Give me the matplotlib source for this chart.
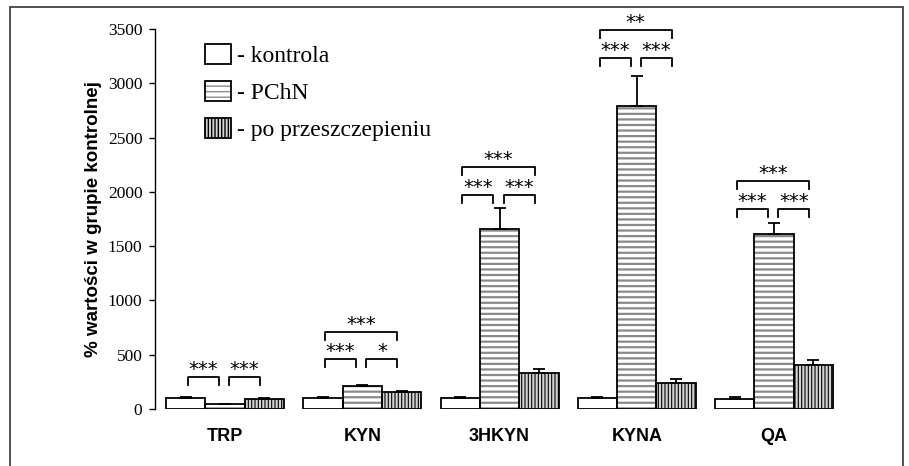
import matplotlib
matplotlib.use('Agg')
import matplotlib.pyplot as plt
import matplotlib.patches as mpatches
from matplotlib.legend_handler import HandlerTuple
import numpy as np

# data
metabolites = ['TRP', 'KYN', '3HKYN', 'KYNA', 'QA']
groups = ['- kontrola', '- PChN', '- po przeszczepieniu']
kontrola = [100, 100, 100, 100, 95]
kontrola_err = [8, 8, 8, 8, 16]
pchn = [45, 212, 1657, 2790, 1612]
pchn_err = [5, 12, 195, 275, 100]
przeszczep = [95, 157, 331, 239, 405]
przeszczep_err = [5, 12, 40, 37, 46]

# significance brackets: (metabolite index, bar a, bar b, bracket top, stars)
brackets = [
    (0, 0, 1, 295, '***'), (0, 1, 2, 295, '***'),
    (1, 0, 1, 460, '***'), (1, 1, 2, 460, '*'), (1, 0, 2, 709, '***'),
    (2, 0, 1, 1971, '***'), (2, 1, 2, 1971, '***'), (2, 0, 2, 2229, '***'),
    (3, 0, 1, 3233, '***'), (3, 1, 2, 3233, '***'), (3, 0, 2, 3491, '**'),
    (4, 0, 1, 1842, '***'), (4, 1, 2, 1842, '***'), (4, 0, 2, 2100, '***'),
]

# styles: face, hatch, hatch colour, hatch linewidth
styles = [
    ('white', '', 'black', 1.0),
    ('white', '---', '#8a8a8a', 1.6),
    ('#d4d4d4', '|||||', 'black', 0.8),
]

fig = plt.figure(figsize=(9.09, 4.66), dpi=100)
ax = fig.add_axes([155 / 909, 1 - 409 / 466, 725 / 909, 380 / 466])

# outer frame around the figure
fig.patches.append(mpatches.Rectangle((10 / 909, -0.1), 893 / 909, 1.1 - 7 / 466,
                                      transform=fig.transFigure, fill=False,
                                      edgecolor='#333333', linewidth=1.2))

x = np.arange(len(metabolites))
w = 0.2865
series = [(kontrola, kontrola_err), (pchn, pchn_err), (przeszczep, przeszczep_err)]
handles = []
for k, ((vals, errs), (face, hatch, hcol, hlw)) in enumerate(zip(series, styles)):
    pos = x + (k - 1) * w
    with plt.rc_context({'hatch.linewidth': hlw}):
        ax.bar(pos, vals, w, color=face, edgecolor=hcol, linewidth=0, hatch=hatch, zorder=2)
        h1 = mpatches.Patch(facecolor=face, edgecolor=hcol, linewidth=0, hatch=hatch)
    ax.bar(pos, vals, w, fill=False, edgecolor='black', linewidth=1.3, zorder=3)
    h2 = mpatches.Patch(fill=False, edgecolor='black', linewidth=1.3)
    ax.errorbar(pos, vals, yerr=[np.zeros(len(errs)), errs], fmt='none',
                ecolor='black', elinewidth=1.3, capsize=4, capthick=1.3, zorder=4)
    handles.append((h1, h2))

leg = ax.legend(handles, groups, handler_map={tuple: HandlerTuple(ndivide=1)},
                loc='upper left', bbox_to_anchor=(205 / 909, 1 - 44 / 466),
                bbox_transform=fig.transFigure, frameon=False,
                prop={'family': 'Liberation Serif', 'size': 17},
                handlelength=1.1, handleheight=0.95, handletextpad=0.25,
                labelspacing=0.58, borderpad=0, borderaxespad=0)

# brackets with stars
leg_len = 75
offs_a = {0: 0.015, 1: 0.03}
offs_b = {1: -0.045, 2: -0.03}
for m, a, b, ytop, stars in brackets:
    xa = x[m] + (a - 1) * w + offs_a[a]
    xb = x[m] + (b - 1) * w + offs_b[b]
    ax.plot([xa, xa, xb, xb], [ytop - leg_len, ytop, ytop, ytop - leg_len],
            color='black', linewidth=1.3, clip_on=False, zorder=5)
    ax.text((xa + xb) / 2, ytop + 20, stars, ha='center', va='baseline',
            fontsize=14, family='DejaVu Sans', clip_on=False)

ax.set_xlim(-0.51, 4.772)
ax.set_ylim(0, 3500)
ax.set_yticks(np.arange(0, 3501, 500))
ax.set_xticks(x)
ax.set_xticklabels(metabolites, family='Liberation Sans', fontweight='bold', fontsize=13)
ax.tick_params(axis='x', length=0, pad=14)
ax.tick_params(axis='y', length=4, width=1, pad=5, labelsize=12.5)
for lab in ax.get_yticklabels():
    lab.set_family('Liberation Serif')
ax.set_ylabel('% wartości w grupie kontrolnej', family='Liberation Sans',
              fontweight='bold', fontsize=13.5, labelpad=4)
for s in ['top', 'right', 'bottom']:
    ax.spines[s].set_visible(False)
ax.spines['left'].set_linewidth(1)

fig.savefig('out.png', dpi=100)
